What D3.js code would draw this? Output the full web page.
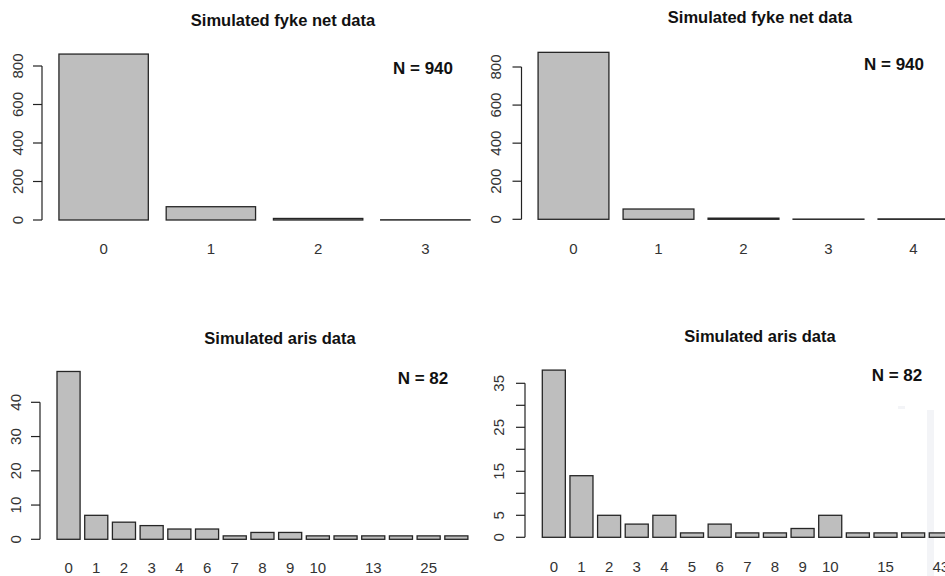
<!DOCTYPE html>
<html>
<head>
<meta charset="utf-8">
<script src="https://cdn.jsdelivr.net/npm/d3@7"></script>
<style>
  body { margin: 0; background: #fff; }
  svg { display: block; font-family: "Liberation Sans", Arial, sans-serif; }
</style>
</head>
<body>
<svg id="chart"></svg>
<script>
// data
var fykeTitle = "Simulated fyke net data";
var arisTitle = "Simulated aris data";

var fykeLeftLabels = ["0", "1", "2", "3"];
var fykeLeftCounts = [862, 69, 8, 1];

var fykeRightLabels = ["0", "1", "2", "3", "4"];
var fykeRightCounts = [877, 54, 6, 1, 2];

var arisLeftLabels = ["0", "1", "2", "3", "4", "6", "7", "8", "9", "10", "", "13", "", "25", ""];
var arisLeftCounts = [49, 7, 5, 4, 3, 3, 1, 2, 2, 1, 1, 1, 1, 1, 1];

var arisRightLabels = ["0", "1", "2", "3", "4", "5", "6", "7", "8", "9", "10", "", "15", "", "43"];
var arisRightCounts = [38, 14, 5, 3, 5, 1, 3, 1, 1, 2, 5, 1, 1, 1, 1];

var fykeTicks = [0, 200, 400, 600, 800];
var arisLeftTicks = [0, 10, 20, 30, 40];
var arisRightTicks = [0, 5, 10, 15, 20, 25, 30, 35];
var arisRightTickLabels = [0, 5, 15, 25, 35];

var width = 945;
var height = 576;

var svg = d3.select("#chart")
  .attr("width", width)
  .attr("height", height);

var panels = [
  {
    title: fykeTitle, n: "N = 940", labels: fykeLeftLabels, counts: fykeLeftCounts,
    ticks: fykeTicks, tickLabels: fykeTicks,
    xRange: [50, 479], yRange: [220, 66], axisX: 42,
    titleX: 283, titleY: 26, nX: 423, nY: 74, labelX: 17, xLabelY: 254
  },
  {
    title: fykeTitle, n: "N = 940", labels: fykeRightLabels, counts: fykeRightCounts,
    ticks: fykeTicks, tickLabels: fykeTicks,
    xRange: [531, 956], yRange: [219.3, 67], axisX: 521.5,
    titleX: 760, titleY: 23, nX: 894, nY: 70, labelX: 495, xLabelY: 254
  },
  {
    title: arisTitle, n: "N = 82", labels: arisLeftLabels, counts: arisLeftCounts,
    ticks: arisLeftTicks, tickLabels: arisLeftTicks,
    xRange: [54.7, 470.2], yRange: [539.3, 402.3], axisX: 40,
    titleX: 280, titleY: 344, nX: 423, nY: 384, labelX: 15, xLabelY: 573
  },
  {
    title: arisTitle, n: "N = 82", labels: arisRightLabels, counts: arisRightCounts,
    ticks: arisRightTicks, tickLabels: arisRightTickLabels,
    xRange: [540, 954.6], yRange: [537.3, 383.3], axisX: 525,
    titleX: 760, titleY: 342, nX: 897, nY: 381, labelX: 498, xLabelY: 572
  }
];

// faint off-white strip visible at the lower right of the original
svg.append("rect")
  .attr("x", 927).attr("y", 410)
  .attr("width", 7).attr("height", height - 410)
  .attr("fill", "#f3f4f7");
svg.append("rect")
  .attr("x", 898).attr("y", 406)
  .attr("width", 7).attr("height", 3)
  .attr("fill", "#f3f4f7");

panels.forEach(function(p) {
  var g = svg.append("g");

  var x = d3.scaleBand()
    .domain(d3.range(p.counts.length))
    .range(p.xRange)
    .paddingInner(1 / 6)
    .paddingOuter(1 / 12);

  var y = d3.scaleLinear()
    .domain([0, d3.max(p.ticks)])
    .range(p.yRange);

  g.selectAll(".bar")
    .data(p.counts)
    .enter()
    .append("rect")
      .attr("class", "bar")
      .attr("x", (d, i) => x(i))
      .attr("y", d => y(d))
      .attr("width", x.bandwidth())
      .attr("height", d => y(0) - y(d))
      .attr("fill", "#bebebe")
      .attr("stroke", "#262626")
      .attr("stroke-width", 1.3);

  // y axis, R style: line from first to last tick
  g.append("line")
    .attr("x1", p.axisX).attr("x2", p.axisX)
    .attr("y1", y(0)).attr("y2", y(d3.max(p.ticks)))
    .attr("stroke", "#222")
    .attr("stroke-width", 1.2);

  g.selectAll(".ytick")
    .data(p.ticks)
    .enter()
    .append("line")
      .attr("class", "ytick")
      .attr("x1", p.axisX - 9).attr("x2", p.axisX)
      .attr("y1", d => y(d)).attr("y2", d => y(d))
      .attr("stroke", "#222")
      .attr("stroke-width", 1.2);

  g.selectAll(".ylabel")
    .data(p.tickLabels)
    .enter()
    .append("text")
      .attr("class", "ylabel")
      .attr("transform", d => `translate(${p.labelX},${y(d)}) rotate(-90)`)
      .attr("text-anchor", "middle")
      .attr("dominant-baseline", "central")
      .style("font-size", "15px")
      .attr("fill", "#333")
      .text(d => d);

  g.selectAll(".xlabel")
    .data(p.labels)
    .enter()
    .append("text")
      .attr("class", "xlabel")
      .attr("x", (d, i) => x(i) + x.bandwidth() / 2)
      .attr("y", p.xLabelY)
      .attr("text-anchor", "middle")
      .style("font-size", "15px")
      .attr("fill", "#333")
      .text(d => d);

  g.append("text")
    .attr("x", p.titleX)
    .attr("y", p.titleY)
    .attr("text-anchor", "middle")
    .style("font-size", "16.5px")
    .style("font-weight", "bold")
    .attr("fill", "#111")
    .text(p.title);

  g.append("text")
    .attr("x", p.nX)
    .attr("y", p.nY)
    .attr("text-anchor", "middle")
    .style("font-size", "17px")
    .style("font-weight", "bold")
    .attr("fill", "#111")
    .text(p.n);
});
</script>
</body>
</html>
